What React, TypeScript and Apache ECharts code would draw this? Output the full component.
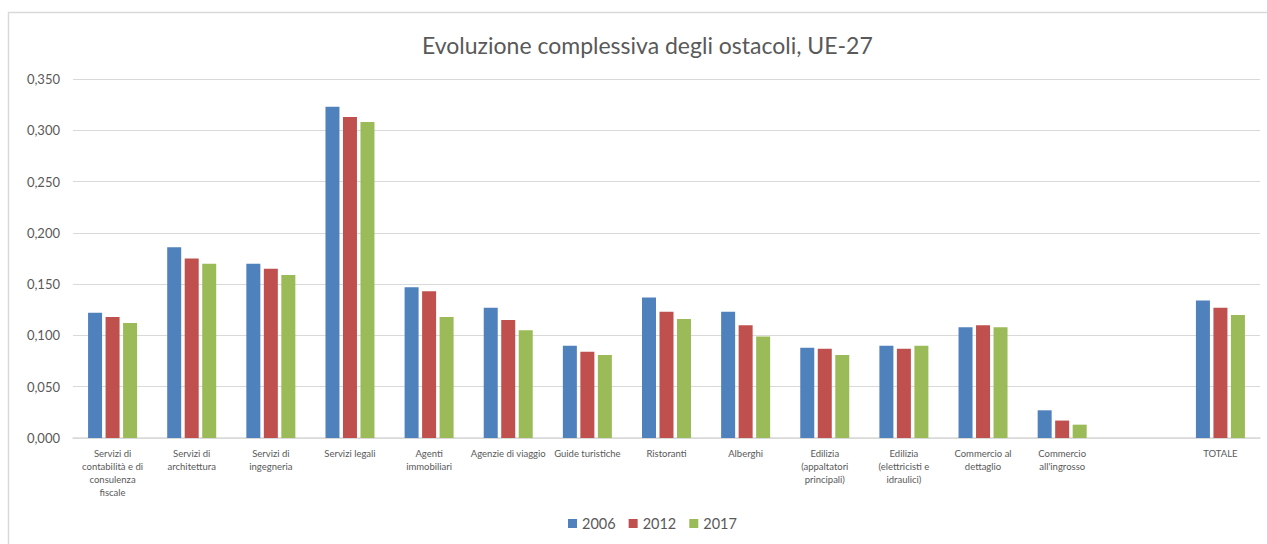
import React, { useEffect, useRef } from "react";
import * as echarts from "echarts";

const categories = [
  "Servizi di\ncontabilità e di\nconsulenza\nfiscale",
  "Servizi di\narchitettura",
  "Servizi di\ningegneria",
  "Servizi legali",
  "Agenti\nimmobiliari",
  "Agenzie di viaggio",
  "Guide turistiche",
  "Ristoranti",
  "Alberghi",
  "Edilizia\n(appaltatori\nprincipali)",
  "Edilizia\n(elettricisti e\nidraulici)",
  "Commercio al\ndettaglio",
  "Commercio\nall'ingrosso",
  "",
  "TOTALE",
];

const seriesNames = ["2006", "2012", "2017"];

const values2006 = [0.122, 0.186, 0.170, 0.323, 0.147, 0.127, 0.090, 0.137, 0.123, 0.088, 0.090, 0.108, 0.027, null, 0.134];
const values2012 = [0.118, 0.175, 0.165, 0.313, 0.143, 0.115, 0.084, 0.123, 0.110, 0.087, 0.087, 0.110, 0.017, null, 0.127];
const values2017 = [0.112, 0.170, 0.159, 0.308, 0.118, 0.105, 0.081, 0.116, 0.099, 0.081, 0.090, 0.108, 0.013, null, 0.120];

const colors = ["#4F81BD", "#C0504D", "#9BBB59"];

const FONT = "Lato, 'Open Sans', sans-serif";

export default function App() {
  const ref = useRef<HTMLDivElement>(null);
  useEffect(() => {
    if (!ref.current) return;
    const chart = echarts.init(ref.current, null, { renderer: "svg" });
    const data = [values2006, values2012, values2017];
    chart.setOption({
      animation: false,
      backgroundColor: "#ffffff",
      textStyle: { fontFamily: FONT },
      title: {
        text: "Evoluzione complessiva degli ostacoli, UE-27",
        left: 417,
        top: 28,
        textStyle: { fontFamily: FONT, fontSize: 23, fontWeight: "normal", color: "#595959" },
      },
      legend: {
        bottom: 8,
        left: 563,
        itemWidth: 9,
        itemHeight: 9,
        itemGap: 13,
        icon: "rect",
        textStyle: { fontFamily: FONT, fontSize: 14.5, color: "#595959" },
        data: seriesNames,
      },
      grid: { left: 73, right: 7, top: 79, bottom: 106 },
      xAxis: {
        type: "category",
        data: categories,
        axisLine: { show: true, lineStyle: { color: "#D9D9D9", width: 1.5 } },
        axisTick: { show: false },
        axisLabel: {
          interval: 0,
          margin: 9,
          fontFamily: FONT,
          fontSize: 9.5,
          lineHeight: 13,
          color: "#595959",
          align: "center",
        },
      },
      yAxis: {
        type: "value",
        min: 0,
        max: 0.35,
        interval: 0.05,
        axisLine: { show: false },
        axisTick: { show: false },
        splitLine: { lineStyle: { color: "#D9D9D9", width: 1 } },
        axisLabel: {
          margin: 13,
          fontFamily: FONT,
          fontSize: 13,
          color: "#595959",
          formatter: (v: number) => v.toFixed(3).replace(".", ","),
        },
      },
      series: seriesNames.map((name, i) => ({
        name,
        type: "bar",
        data: data[i],
        barWidth: 14,
        barGap: "25%",
        itemStyle: { color: colors[i] },
      })),
      graphic: [
        {
          type: "polyline",
          shape: { points: [[8.5, 544], [8.5, 12.5], [1267, 12.5]] },
          style: { stroke: "#D9D9D9", lineWidth: 1.5, fill: "none" },
        },
      ],
    });
    return () => chart.dispose();
  }, []);
  return (
    <div
      ref={ref}
      style={{ position: "absolute", left: 0, top: 0, width: 1267, height: 544 }}
    />
  );
}
